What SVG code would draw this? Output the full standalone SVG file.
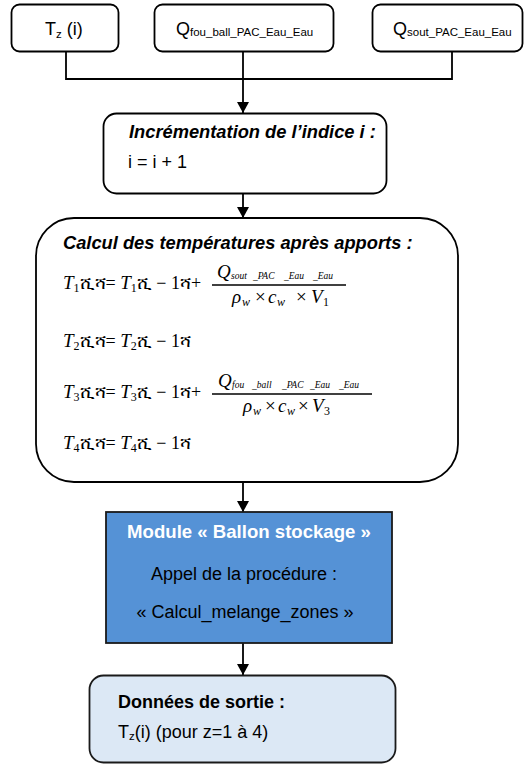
<svg xmlns="http://www.w3.org/2000/svg" width="526" height="765" viewBox="0 0 526 765">
<defs>
<style>
.box{fill:#ffffff;stroke:#000000;stroke-width:1.8}
.t{font-family:"Liberation Sans",Arial,sans-serif;font-size:18px;fill:#000}
.b{font-weight:bold}
.bi{font-family:"Liberation Sans",Arial,sans-serif;font-size:18.3px;font-weight:bold;font-style:italic;fill:#000}
.sub{font-size:11.5px}
.m{font-family:"Liberation Serif","Times New Roman","DejaVu Serif",serif;font-size:19px;fill:#000}
.mi{font-style:italic}
.r{font-size:18px;font-style:normal}
.ms{font-size:12px;font-style:normal}
.msi{font-size:12px;font-style:italic}
.tiny{font-family:"Liberation Serif",serif;font-size:9.5px;font-style:italic}
.bar{stroke:#000;stroke-width:1.5}
.conn{fill:none;stroke:#000;stroke-width:1.8}
.white{fill:#ffffff}
</style>
<marker id="ah" viewBox="0 0 11 12" refX="11" refY="6" markerWidth="11" markerHeight="12" markerUnits="userSpaceOnUse" orient="auto">
<path d="M0,0 L11,6 L0,12 Z" fill="#000"/>
</marker>
</defs>
<rect width="526" height="765" fill="#ffffff"/>

<g id="connectors">
<path class="conn" d="M66,52 V79 H452 V52"/>
<path class="conn" d="M243,52 V113" marker-end="url(#ah)"/>
<path class="conn" d="M243,194 V218" marker-end="url(#ah)"/>
<path class="conn" d="M243,482 V512" marker-end="url(#ah)"/>
<path class="conn" d="M243,643 V675" marker-end="url(#ah)"/>
</g>

<g id="node-tz">
<rect class="box" x="11.5" y="4.5" width="107" height="47" rx="8"/>
<text class="t" x="45" y="35">T<tspan class="sub" dy="3">z</tspan><tspan dy="-3"> (i)</tspan></text>
</g>

<g id="node-qfou">
<rect class="box" x="154.5" y="4.5" width="179" height="47" rx="8"/>
<text class="t" x="176" y="35">Q<tspan class="sub" dy="0.5">fou_ball_PAC_Eau_Eau</tspan></text>
</g>

<g id="node-qsout">
<rect class="box" x="372.5" y="4.5" width="150" height="47" rx="8"/>
<text class="t" x="393" y="35">Q<tspan class="sub" dy="0.5">sout_PAC_Eau_Eau</tspan></text>
</g>

<g id="node-increment">
<rect class="box" x="103.5" y="113.5" width="283" height="80" rx="13"/>
<text class="bi" x="129" y="138">Incrémentation de l’indice i :</text>
<text class="t" x="128" y="168">i = i + 1</text>
</g>

<g id="node-calcul">
<rect class="box" x="36" y="218" width="422" height="264" rx="38"/>
<text class="bi" x="63" y="249">Calcul des températures après apports :</text>

<text class="m" x="63" y="289"><tspan class="mi">T</tspan><tspan class="ms" dy="3">1</tspan><tspan class="r" dy="-3">ሺሻ= </tspan><tspan class="mi">T</tspan><tspan class="ms" dy="3">1</tspan><tspan class="r" dy="-3">ሺ − 1ሻ+</tspan></text>
<text class="m" y="278"><tspan class="mi" x="217">Q</tspan><tspan class="tiny" x="231" dy="1">sout</tspan><tspan class="tiny" x="253">_PAC</tspan><tspan class="tiny" x="284">_Eau</tspan><tspan class="tiny" x="313">_Eau</tspan></text>
<line class="bar" x1="212" y1="285" x2="346" y2="285"/>
<text class="m" y="303"><tspan class="mi" x="232">ρ</tspan><tspan class="msi" x="242" dy="3">w</tspan><tspan x="255" dy="-3">×</tspan><tspan class="mi" x="268">c</tspan><tspan class="msi" x="277" dy="3">w</tspan><tspan x="296" dy="-3">×</tspan><tspan class="mi" x="311">V</tspan><tspan class="ms" x="323" dy="3">1</tspan></text>

<text class="m" x="63" y="347"><tspan class="mi">T</tspan><tspan class="ms" dy="3">2</tspan><tspan class="r" dy="-3">ሺሻ= </tspan><tspan class="mi">T</tspan><tspan class="ms" dy="3">2</tspan><tspan class="r" dy="-3">ሺ − 1ሻ</tspan></text>

<text class="m" x="63" y="398"><tspan class="mi">T</tspan><tspan class="ms" dy="3">3</tspan><tspan class="r" dy="-3">ሺሻ= </tspan><tspan class="mi">T</tspan><tspan class="ms" dy="3">3</tspan><tspan class="r" dy="-3">ሺ − 1ሻ+</tspan></text>
<text class="m" y="387"><tspan class="mi" x="218">Q</tspan><tspan class="tiny" x="232" dy="1">fou</tspan><tspan class="tiny" x="252">_ball</tspan><tspan class="tiny" x="282">_PAC</tspan><tspan class="tiny" x="310">_Eau</tspan><tspan class="tiny" x="339">_Eau</tspan></text>
<line class="bar" x1="212" y1="394" x2="372" y2="394"/>
<text class="m" y="412"><tspan class="mi" x="243">ρ</tspan><tspan class="msi" x="253" dy="3">w</tspan><tspan x="265" dy="-3">×</tspan><tspan class="mi" x="278">c</tspan><tspan class="msi" x="287" dy="3">w</tspan><tspan x="298" dy="-3">×</tspan><tspan class="mi" x="312">V</tspan><tspan class="ms" x="324" dy="3">3</tspan></text>

<text class="m" x="63" y="449"><tspan class="mi">T</tspan><tspan class="ms" dy="3">4</tspan><tspan class="r" dy="-3">ሺሻ= </tspan><tspan class="mi">T</tspan><tspan class="ms" dy="3">4</tspan><tspan class="r" dy="-3">ሺ − 1ሻ</tspan></text>
</g>

<g id="node-ballon">
<rect x="106" y="512" width="286" height="131" fill="#5592d6" stroke="#1a1a1a" stroke-width="1.8"/>
<text class="t b white" x="249" y="538" text-anchor="middle" style="font-size:18.6px">Module « Ballon stockage »</text>
<text class="t" x="244" y="580" text-anchor="middle">Appel de la procédure :</text>
<text class="t" x="245" y="618" text-anchor="middle">« Calcul_melange_zones »</text>
</g>

<g id="node-sortie">
<rect x="89.5" y="675.5" width="306" height="87" rx="14" fill="#dce8f5" stroke="#1a1a1a" stroke-width="1.8"/>
<text class="t b" x="118" y="708">Données de sortie :</text>
<text class="t" x="118" y="738">T<tspan class="sub" dy="2">z</tspan><tspan dy="-2">(i) (pour z=1 à 4)</tspan></text>
</g>
</svg>
